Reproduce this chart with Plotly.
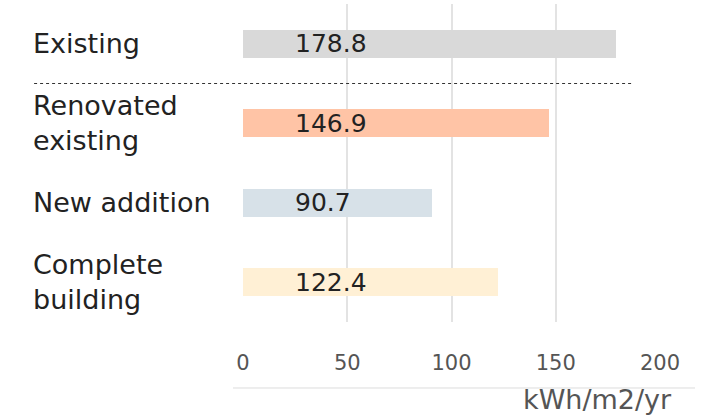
import plotly.graph_objects as go

# Energy use intensity per building part
categories = ["Existing", "Renovated<br>existing", "New addition", "Complete<br>building"]
values = [178.8, 146.9, 90.7, 122.4]
bar_colors = ["#d9d9d9", "#ffc4a6", "#d7e1e8", "#fff0d5"]
tick_values = [0, 50, 100, 150, 200]
unit_label = "kWh/m2/yr"

FONT = "DejaVu Sans"
TEXT = "#222222"

fig = go.Figure()
fig.add_trace(go.Bar(
    y=list(range(len(categories))),
    x=values,
    orientation="h",
    marker=dict(color=bar_colors, line=dict(width=0)),
    width=0.35,
    hoverinfo="skip",
))

# value labels inside each bar
for i, v in enumerate(values):
    fig.add_annotation(x=0, y=i, xref="x", yref="y", text=f"{v:.1f}",
                       xanchor="left", yanchor="middle", xshift=50, showarrow=False,
                       font=dict(family=FONT, size=25, color=TEXT))

# category labels, left aligned
for i, c in enumerate(categories):
    fig.add_annotation(x=-0.508, y=i, xref="paper", yref="y", text=c,
                       xanchor="left", yanchor="middle", align="left", showarrow=False,
                       font=dict(family=FONT, size=27, color=TEXT))

# dotted separator under the existing building
fig.add_shape(type="line", xref="paper", yref="y", x0=-0.501, x1=0.933, y0=0.5, y1=0.5,
              line=dict(color="#333333", width=1, dash="dot"))

# baseline beneath the tick labels
fig.add_shape(type="line", xref="paper", yref="paper", x0=-0.024, x1=1.084, y0=-0.2075, y1=-0.2075,
              line=dict(color="#dddddd", width=1))

fig.add_annotation(x=1.034, y=-0.245, xref="paper", yref="paper", text=unit_label,
                   xanchor="right", yanchor="middle", showarrow=False,
                   font=dict(family=FONT, size=27, color="#555555"))

fig.update_layout(
    width=707, height=417,
    margin=dict(l=243, r=47, t=4, b=95),
    paper_bgcolor="white", plot_bgcolor="white",
    showlegend=False,
    bargap=0,
    xaxis=dict(range=[0, 200], tickvals=tick_values, showgrid=True, gridcolor="#e3e3e3",
               gridwidth=1.5, zeroline=False, showline=False, ticks="",
               ticklabelstandoff=26,
               tickfont=dict(family=FONT, size=21, color="#555555")),
    yaxis=dict(range=[3.5, -0.5], showticklabels=False, showgrid=False, zeroline=False,
               showline=False, ticks=""),
)

fig.write_html("out.html")
